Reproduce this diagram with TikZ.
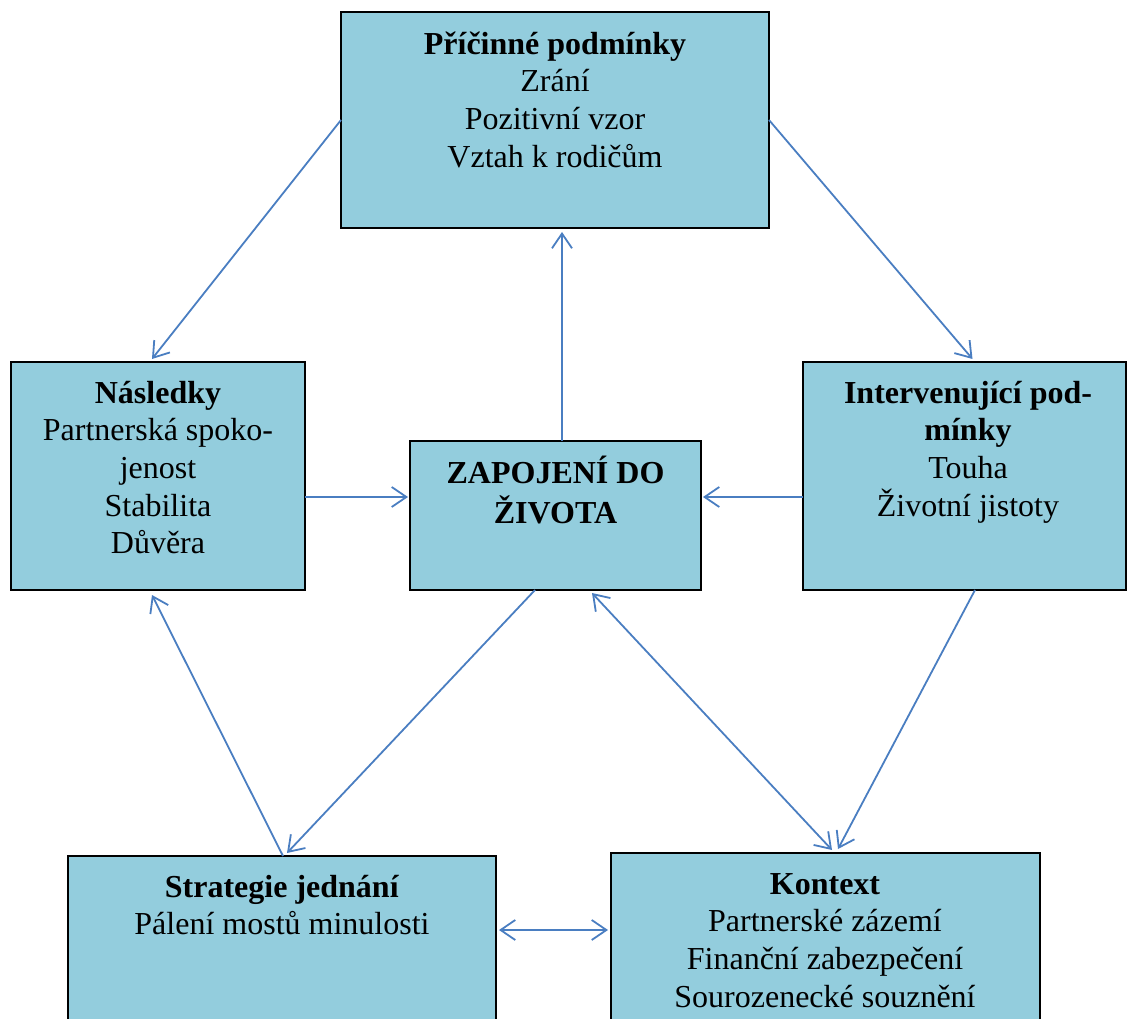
\documentclass[tikz,border=0pt]{standalone}
\usepackage{fontspec}
\setmainfont{Liberation Serif}
\usetikzlibrary{arrows.meta,calc}
\definecolor{boxfill}{RGB}{147,205,221}
\definecolor{arrowblue}{RGB}{74,126,193}
\begin{document}
\begin{tikzpicture}[x=0.75pt,y=-0.75pt,
  box/.style={draw=black,line width=1.3pt,fill=boxfill,inner sep=0pt,outer sep=0pt},
  txt/.style={align=center,anchor=north,inner sep=0pt,font=\fontsize{24}{28.2}\selectfont},
  arr/.style={draw=arrowblue,line width=1.35pt,-{Straight Barb[length=11pt,width=15pt]}},
  darr/.style={draw=arrowblue,line width=1.35pt,{Straight Barb[length=11pt,width=15pt]}-{Straight Barb[length=11pt,width=15pt]}}]
\useasboundingbox (0,0) rectangle (1127,1019);
\clip (0,0) rectangle (1127,1019);

% boxes
\node[box,minimum width=321pt,minimum height=162pt] (pric) at (555,120) {};
\node[box,minimum width=220.5pt,minimum height=171pt] (nasl) at (158,476) {};
\node[box,minimum width=218.25pt,minimum height=111.75pt] (zap) at (555.5,515.5) {};
\node[box,minimum width=242.25pt,minimum height=171pt] (interv) at (964.5,476) {};
\node[box,minimum width=321pt,minimum height=138pt] (strat) at (282,948) {};
\node[box,minimum width=321.75pt,minimum height=140.25pt] (kont) at (825.5,946.5) {};

% texts
\node[txt] (tpric) at (555,27.7) {\strut\textbf{Příčinné podmínky}\\Zrání\\Pozitivní vzor\\Vztah k rodičům};
\node[txt] (tnasl) at (158,376.7) {\strut\textbf{Následky}\\Partnerská spoko-\\jenost\\Stabilita\\Důvěra};
\node[txt] (tzap) at (555.5,455.7) {\strut\textbf{ZAPOJENÍ DO}\\\textbf{ŽIVOTA}};
\node[txt] (tinterv) at (968,376.7) {\strut\textbf{Intervenující pod-}\\\textbf{mínky}\\Touha\\Životní jistoty};
\node[txt] (tstrat) at (282,870.7) {\strut\textbf{Strategie jednání}\\Pálení mostů minulosti};
\node[txt] (tkont) at (825,867.7) {\strut\textbf{Kontext}\\Partnerské zázemí\\Finanční zabezpečení\\Sourozenecké souznění};

% connectors
\draw[arr] (pric.west) -- ($(nasl.north)+(-6,-3)$);
\draw[arr] (pric.east) -- ($(interv.north)+(8,-3)$);
\draw[arr] ($(zap.north)+(6.5,0)$) -- ($(pric.south)+(7,4)$);
\coordinate (a4) at ($(nasl.east)+(0,21)$);
\draw[arr] (a4) -- ($(a4 -| zap.west)+(-2,0)$);
\coordinate (a5) at ($(interv.west)+(0,21)$);
\draw[arr] (a5) -- ($(a5 -| zap.east)+(2,0)$);
\draw[arr] ($(zap.south)+(-20.5,0)$) -- ($(strat.north)+(5,-3)$);
\draw[arr] ($(strat.north)+(1,0)$) -- ($(nasl.south)+(-6,5)$);
\draw[darr] ($(zap.south)+(36.5,3)$) -- ($(kont.north)+(6.5,-3)$);
\draw[arr] ($(interv.south)+(10.5,0)$) -- ($(kont.north)+(12.5,-4)$);
\coordinate (a10) at (strat.east |- 0,930);
\draw[darr] ($(a10)+(3,0)$) -- ($(a10 -| kont.west)+(-3,0)$);
\end{tikzpicture}
\end{document}
